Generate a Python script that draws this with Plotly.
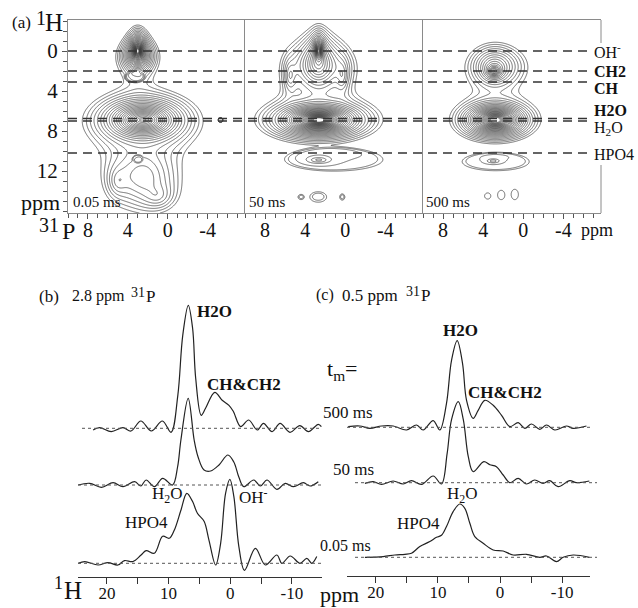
import numpy as np
import plotly.graph_objects as go

FONT = "Liberation Serif, Times New Roman, serif"
W, H = 638, 608

# ---------------- (a) 2D 31P-1H peak tables ----------------
# broad peaks: 31P ppm, 1H ppm, amplitude, 31P width, 1H width, line-shape exponent
p005_P   = [3.0, 3.0, 2.5, 2.5, 2.5, 1.0, 5.0]
p005_H   = [0.0, 0.5, 6.9, 6.9, 12.5, 14.5, 13.0]
p005_amp = [200, 8, 15, 50, 3.0, 1.4, 1.3]
p005_wP  = [0.2, 1.1, 0.5, 1.6, 3.2, 1.6, 1.0]
p005_wH  = [0.4, 1.0, 0.12, 0.85, 3.0, 1.3, 1.5]
p005_exp = [1.5, 1.5, 1.5, 1.5, 1.5, 1.5, 1.5]
# small isolated spots: 31P ppm, 1H ppm, 31P radius, 1H radius
s005_P  = [3.3, 3.0, -5.3]
s005_H  = [2.6, 10.8, 6.9]
s005_rP = [0.75, 0.4, 0.2]
s005_rH = [0.4, 0.3, 0.2]

p50_P   = [2.65, 2.7, 2.5, 5.5, 0.3, 2.65, 2.65]
p50_H   = [0.0, 1.2, 1.5, 2.5, 2.5, 6.9, 10.9]
p50_amp = [60, 6, 2.5, 1.8, 1.8, 400, 1.2]
p50_wP  = [0.2, 1.3, 3.0, 0.6, 0.6, 0.85, 1.0]
p50_wH  = [0.5, 1.8, 2.0, 1.5, 1.5, 0.33, 0.3]
p50_exp = [1.5, 1.5, 1.5, 1.5, 1.5, 1.5, 1.5]
s50_P  = [1.05, 4.4, 2.7, 0.3]
s50_H  = [10.9, 14.6, 14.6, 14.6]
s50_rP = [4.3, 0.3, 0.8, 0.25]
s50_rH = [1.0, 0.25, 0.5, 0.3]

p500_P   = [2.9, 2.9, 2.5, 2.8, 3.0]
p500_H   = [2.0, 1.5, 1.5, 6.9, 11.0]
p500_amp = [15, 3, 1.8, 150, 1.0]
p500_wP  = [0.45, 1.6, 3.0, 0.85, 0.6]
p500_wH  = [0.4, 1.5, 2.0, 0.45, 0.2]
p500_exp = [1.5, 1.5, 1.5, 1.5, 1.5]
s500_P  = [2.75, 3.55, 2.2, 0.85]
s500_H  = [11.1, 14.5, 14.4, 14.35]
s500_rP = [3.0, 0.3, 0.35, 0.35]
s500_rH = [0.8, 0.3, 0.45, 0.5]

mix_times = ["0.05 ms", "50 ms", "500 ms"]
ref_lines_1H = [0.0, 2.0, 3.1, 6.75, 7.0, 10.2]

# ---------------- (b) slice at 2.8 ppm 31P ----------------
b500_ppm = [22.25, 21.2, 19.3, 17.4, 16.1, 14.5, 12.8, 11.0, 9.6, 8.5, 7.7, 6.8, 6.1, 5.6, 4.7, 4.0,
            2.5, 1.3, 0.2, -0.5, -1.7, -3.0, -4.4, -5.4, -6.8, -8.1, -9.7, -11.3, -12.7, -14.3, -14.8]
b500_int = [-1.7, 0.7, -3.3, 0.7, -2.7, 7.3, -2.7, 7.3, -4, 33, 93, 123, 100, 50, 13, 20,
            36, 28, 23, 17, 1.7, 8.3, -1.7, 5, -3.3, 5, -4, 2.7, -3.3, 4, 1.7]
b50_ppm = [24.67, 22.8, 20.9, 19.0, 17.4, 15.5, 14.5, 13.65, 12.3, 10.96, 9.35, 8.54, 8.0, 6.82, 5.85,
           5.21, 4.24, 3.17, 1.82, 0.37, -0.59, -1.4, -2.21, -3.82, -4.9, -5.97, -7.58, -8.93, -10.27,
           -11.88, -12.96, -14.3]
b50_int = [0, 1.7, -2.3, 2.3, -1.7, 3.3, -1, 5, -1.7, 6.7, 0, 18, 45, 86.7, 45,
           28, 15, 14, 20, 30, 23, 8, -1.7, 5, -1, 5, -4.3, 1.7, -1.7, 2.3, -1, 3.3]
b005_ppm = [24.67, 23.6, 21.45, 19.83, 18.22, 17.15, 15.8, 14.46, 13.65, 12.31, 10.96, 9.89, 9.08, 8.0,
            7.04, 6.12, 5.32, 4.24, 3.44, 2.36, 1.55, 0.75, 0.05, -0.59, -1.4, -2.32, -4.09, -5.71,
            -7.58, -8.38, -9.74, -11.35, -12.43, -13.24, -14.05]
b005_int = [0, 1.7, -1.7, 0.7, -1.7, 2.7, 1.7, 8.3, 12.7, 10, 27, 25, 33, 53,
            70, 62, 50, 42, 23, -1.7, 20, 70, 84, 67, 17, -7, 15, -1.7,
            8.3, 0, 7.3, 0, 5, 0, 6.7]

# ---------------- (c) slice at 0.5 ppm 31P ----------------
c500_ppm = [24.46, 22.58, 20.97, 19.09, 17.21, 15.06, 13.45, 12.38, 10.77, 9.70, 8.62, 7.81, 6.90, 6.04,
            5.39, 4.32, 3.52, 2.44, 1.10, -0.25, -1.59, -2.93, -4.0, -5.07, -6.41, -7.49, -8.83,
            -10.71, -11.78, -13.93]
c500_int = [0.7, 1.3, -1, 1.3, 1.3, -2.7, 2.3, -2.7, 6.7, -2.7, 24, 67, 86.7, 64,
            27, 9, 17, 27, 22, 12, 0.7, 4.7, -1, 3.3, -2, 2.3, -2.7,
            1.3, -1, 1.3]
c50_ppm = [21.77, 20.43, 19.09, 17.21, 15.6, 14.26, 12.65, 10.77, 9.43, 8.52, 7.81, 6.72, 5.91, 5.11,
           4.32, 2.61, 1.64, 0.57, -0.51, -1.59, -2.93, -4.26, -5.6, -6.94, -8.02, -9.36, -11.24,
           -12.31, -14.39]
c50_int = [-0.7, 1, -1.7, 1.7, -1.3, 2, -1.7, 6.7, -1.3, 29, 63, 81, 63, 26,
           11, 21, 18, 16, 7.7, 0, 4.3, -1.3, 2.7, -0.7, 2, -4, 2,
           0, 1.7]
c005_ppm = [21.77, 18.82, 16.94, 15.33, 14.26, 12.92, 11.31, 10.23, 9.43, 8.62, 7.55, 6.47, 5.67, 4.86,
            4.06, 2.71, 1.1, -0.51, -2.12, -4.26, -6.41, -7.49, -9.1, -10.17, -11.78, -14.39]
c005_int = [0, 0.7, 2.3, 3, 4, 10.7, 15.7, 20, 22, 30.7, 45.7, 53.3, 49, 34,
            20.7, 14, 7.3, 6.3, 2.3, 3, 0, 1.3, -4.3, 0, 2.3, 0]

# ---------------- helpers ----------------
def px(x):
    return x / W

def py(y):
    return 1 - y / H

P_grid = np.linspace(10.0, -7.75, 356)
H_grid = np.linspace(-3.1, 16.2, 387)
PP, HH = np.meshgrid(P_grid, H_grid)

def field(P, Hh, amp, wP, wH, ex, sP, sH, rP, rH):
    Z = np.zeros_like(PP)
    for p, h, a, wp, wh, e in zip(P, Hh, amp, wP, wH, ex):
        Z += a / (1 + ((PP - p) / wp) ** 2 + ((HH - h) / wh) ** 2) ** e
    for p, h, rp, rh in zip(sP, sH, rP, rH):
        q = ((PP - p) / rp) ** 2 + ((HH - h) / rh) ** 2
        Z += 1.15 * np.exp(-0.14 * q ** 4)
    return Z

fig = go.Figure()

panels = [
    (p005_P, p005_H, p005_amp, p005_wP, p005_wH, p005_exp, s005_P, s005_H, s005_rP, s005_rH),
    (p50_P, p50_H, p50_amp, p50_wP, p50_wH, p50_exp, s50_P, s50_H, s50_rP, s50_rH),
    (p500_P, p500_H, p500_amp, p500_wP, p500_wH, p500_exp, s500_P, s500_H, s500_rP, s500_rH),
]
for i, pk in enumerate(panels):
    Z = field(*pk)
    LZ = np.log(np.maximum(Z, 1e-6))
    fig.add_trace(go.Contour(
        x=P_grid, y=H_grid, z=LZ,
        contours=dict(start=0.0, end=float(LZ.max()) - 0.35, size=float(np.log(1.2)),
                      coloring="lines", showlabels=False),
        colorscale=[[0, "#333"], [1, "#333"]],
        line=dict(width=0.7), showscale=False, hoverinfo="skip",
        xaxis="x" if i == 0 else f"x{i+1}", yaxis="y" if i == 0 else f"y{i+1}",
    ))

# stacked 1D slices
b_offsets = [148.7, 92.0, 13.7]
c_offsets = [148.7, 93.3, 18.7]
for (xs, ys), off in zip([(b500_ppm, b500_int), (b50_ppm, b50_int), (b005_ppm, b005_int)], b_offsets):
    fig.add_trace(go.Scatter(x=xs, y=[off + v for v in ys], mode="lines",
                             line=dict(color="#222", width=1.2, shape="spline", smoothing=1.0),
                             xaxis="x4", yaxis="y4", hoverinfo="skip", showlegend=False))
for (xs, ys), off in zip([(c500_ppm, c500_int), (c50_ppm, c50_int), (c005_ppm, c005_int)], c_offsets):
    fig.add_trace(go.Scatter(x=xs, y=[off + v for v in ys], mode="lines",
                             line=dict(color="#222", width=1.2, shape="spline", smoothing=1.0),
                             xaxis="x5", yaxis="y5", hoverinfo="skip", showlegend=False))

frame_col = "#8a8a8a"
tickfont_a = dict(family=FONT, size=20, color="#111")
a_doms = [(68, 245), (245, 423), (423, 601)]
layout = dict(
    width=W, height=H, margin=dict(l=0, r=0, t=0, b=0),
    paper_bgcolor="white", plot_bgcolor="white", showlegend=False,
)
for i, (x0, x1) in enumerate(a_doms):
    xk = "xaxis" if i == 0 else f"xaxis{i+1}"
    yk = "yaxis" if i == 0 else f"yaxis{i+1}"
    layout[xk] = dict(
        domain=[px(x0), px(x1)], range=[10.0, -7.75], anchor="y" if i == 0 else f"y{i+1}",
        tickmode="array", tickvals=[8, 4, 0, -4], ticktext=["8", "4", "0", "-4"],
        ticks="outside", ticklen=5, tickcolor="#555", tickwidth=1,
        minor=dict(ticks="outside", ticklen=4, tickmode="linear", tick0=0, dtick=1, tickcolor="#555"),
        showline=True, mirror=True, linecolor=frame_col, linewidth=1,
        showgrid=False, zeroline=False, tickfont=tickfont_a, ticklabelstandoff=-6,
    )
    ydict = dict(
        domain=[py(213), py(20)], range=[16.2, -3.1], anchor="x" if i == 0 else f"x{i+1}",
        showgrid=False, zeroline=False, showline=True, linecolor=frame_col, linewidth=1,
    )
    if i == 0:
        ydict.update(tickmode="array", tickvals=[0, 4, 8, 12], ticktext=["0", "4", "8", "12"],
                     ticks="outside", ticklen=5, tickcolor="#555",
                     minor=dict(ticks="outside", ticklen=4, tickmode="linear", tick0=0, dtick=1, tickcolor="#555"),
                     tickfont=dict(family=FONT, size=21, color="#111"))
    else:
        ydict.update(showticklabels=False, ticks="", matches="y")
    layout[yk] = ydict

tickfont_b = dict(family=FONT, size=17, color="#111")
for key, dom, rng, anchor in [("xaxis4", (78, 322), [24.7, -14.9], "y4"),
                              ("xaxis5", (346.7, 590), [24.7, -14.5], "y5")]:
    layout[key] = dict(
        domain=[px(dom[0]), px(dom[1])], range=rng, anchor=anchor,
        tickmode="array", tickvals=[20, 10, 0, -10], ticktext=["20", "10", "0", "-10"],
        ticks="outside", ticklen=6, tickcolor="#333",
        minor=dict(ticks="outside", ticklen=6, tickmode="linear", tick0=0, dtick=5, tickcolor="#333"),
        showline=True, linecolor="#333", linewidth=1, showgrid=False, zeroline=False, tickfont=tickfont_b,
        ticklabelstandoff=-5,
    )
layout["yaxis4"] = dict(domain=[py(577), py(290)], range=[0, 287], visible=False, anchor="x4")
layout["yaxis5"] = dict(domain=[py(576), py(290)], range=[0, 286], visible=False, anchor="x5")
fig.update_layout(**layout)

shapes = []
# dashed reference lines across (a)
for h in ref_lines_1H:
    shapes.append(dict(type="line", xref="paper", yref="y", x0=px(68), x1=px(593), y0=h, y1=h,
                       line=dict(color="#333", width=1.3, dash="9px,6px")))
# right edge of (a) frame (partly hidden behind the labels)
shapes.append(dict(type="line", xref="paper", yref="paper", x0=px(601), x1=px(601), y0=py(20), y1=py(43),
                   line=dict(color=frame_col, width=1)))
shapes.append(dict(type="line", xref="paper", yref="paper", x0=px(601), x1=px(601), y0=py(165), y1=py(213),
                   line=dict(color=frame_col, width=1)))
# dotted baselines of the slices
for off, (xa, xb) in zip(b_offsets, [(82, 322), (78, 322), (78, 322)]):
    shapes.append(dict(type="line", xref="paper", yref="y4", x0=px(xa), x1=px(xb), y0=off, y1=off,
                       line=dict(color="#555", width=1, dash="dot")))
for off, (xa, xb) in zip(c_offsets, [(347, 590), (355, 597), (355, 597)]):
    shapes.append(dict(type="line", xref="paper", yref="y5", x0=px(xa), x1=px(xb), y0=off, y1=off,
                       line=dict(color="#555", width=1, dash="dot")))
fig.update_layout(shapes=shapes)

def ann(x, y, text, size=15, bold=False, xanchor="left"):
    t = f"<b>{text}</b>" if bold else text
    return dict(x=px(x), y=py(y), xref="paper", yref="paper", text=t, showarrow=False,
                xanchor=xanchor, yanchor="middle", font=dict(family=FONT, size=size, color="#111"),
                borderpad=0)

anns = [
    ann(11, 23, "(a)", 17),
    ann(35, 18, "1", 20),
    ann(44, 23, "H", 25),
    ann(20, 203, "ppm", 22),
    ann(38, 225, "31", 20),
    ann(61, 231, "P", 24),
    ann(72, 202, mix_times[0], 15),
    ann(248, 202, mix_times[1], 15),
    ann(425, 202, mix_times[2], 15),
    ann(580, 230, "ppm", 18),
    ann(593, 51, "OH<sup>-</sup>", 16),
    ann(593, 71, "CH2", 16, bold=True),
    ann(593, 88, "CH", 16, bold=True),
    ann(593, 110, "H2O", 16, bold=True),
    ann(593, 128, "H<sub>2</sub>O", 16),
    ann(593, 154, "HPO4", 16),
    # (b)
    ann(38, 296, "(b)", 17),
    ann(71, 296, "2.8 ppm", 16),
    ann(130, 292, "31", 14),
    ann(145, 296, "P", 17),
    ann(196, 311, "H2O", 17, bold=True),
    ann(206, 384, "CH&amp;CH2", 17, bold=True),
    ann(151, 495, "H<sub>2</sub>O", 17),
    ann(238, 496, "OH<sup>-</sup>", 17),
    ann(124, 522, "HPO4", 17),
    ann(53, 583, "1", 18),
    ann(63, 590, "H", 25),
    # (c)
    ann(315, 295, "(c)", 16),
    ann(341, 295, "0.5 ppm", 17),
    ann(405, 291, "31", 14),
    ann(420, 295, "P", 17),
    ann(442, 330, "H2O", 17, bold=True),
    ann(326, 370, "t<sub>m</sub>=", 22),
    ann(467, 392, "CH&amp;CH2", 17, bold=True),
    ann(322, 412, "500 ms", 17),
    ann(332, 469, "50 ms", 17),
    ann(446, 495, "H<sub>2</sub>O", 17),
    ann(396, 523, "HPO4", 17),
    ann(319, 545, "0.05 ms", 16),
    ann(319, 594, "ppm", 22),
]
fig.update_layout(annotations=anns)

fig.write_html("out.html", config={"displayModeBar": False},
               post_script="document.body.style.margin='0px';")
